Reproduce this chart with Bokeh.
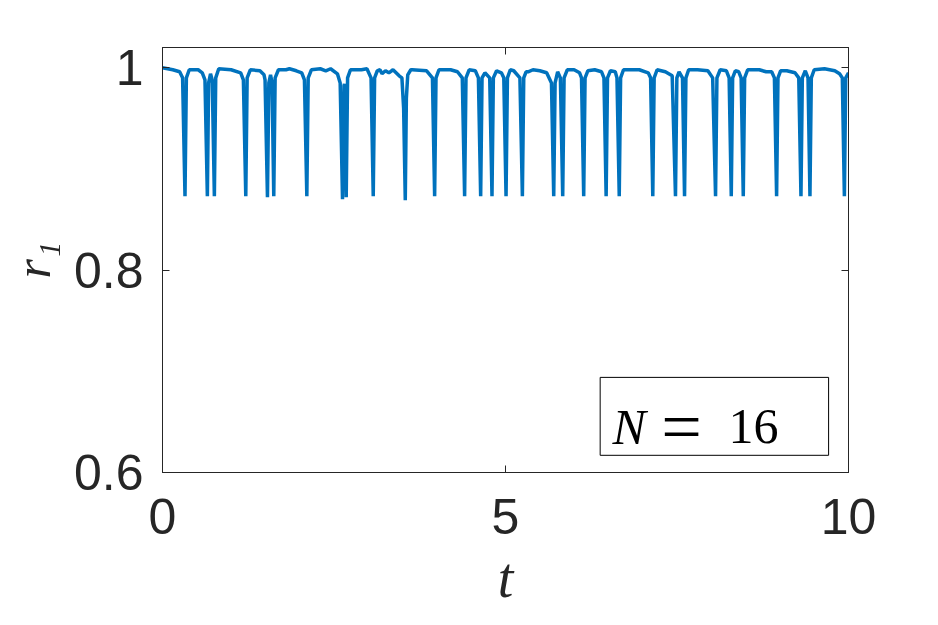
from bokeh.plotting import figure
from bokeh.models import Range1d, FixedTicker, LinearAxis, Label, BoxAnnotation
from bokeh.embed import file_html
from bokeh.resources import INLINE

# time samples and order parameter r_1
t_vals = [0.0, 0.15, 0.25,
          0.293, 0.328, 0.348, 0.39, 0.52, 0.58,
          0.619, 0.654, 0.672, 0.70, 0.725,
          0.756, 0.776, 0.82, 1.0, 1.14,
          1.179, 1.214, 1.234, 1.28, 1.42, 1.48,
          1.495, 1.530, 1.55, 1.575, 1.597,
          1.622, 1.642, 1.69, 1.80, 1.85, 1.95, 2.03,
          2.069, 2.104, 2.124, 2.17, 2.30, 2.38, 2.45, 2.55, 2.59,
          2.624, 2.645, 2.652, 2.662, 2.678, 2.698, 2.74, 2.90, 2.98, 3.04,
          3.072, 3.092, 3.13, 3.17, 3.20, 3.25, 3.30, 3.36, 3.45, 3.49, 3.515,
          3.539, 3.555, 3.575, 3.62, 3.64, 3.85, 3.935,
          3.967, 3.987, 4.03, 4.20, 4.30, 4.37,
          4.404, 4.424, 4.47, 4.56, 4.605,
          4.638, 4.658, 4.70, 4.77,
          4.803, 4.823, 4.87, 4.94, 4.975,
          5.008, 5.028, 5.07, 5.12, 5.21,
          5.246, 5.266, 5.30, 5.33, 5.40, 5.50, 5.60, 5.67,
          5.703, 5.723, 5.76, 5.80,
          5.834, 5.854, 5.90, 6.00, 6.08, 6.108,
          6.140, 6.16, 6.20, 6.30, 6.40, 6.435,
          6.467, 6.487, 6.53, 6.60, 6.625,
          6.658, 6.678, 6.72, 6.80, 6.95, 7.08, 7.115,
          7.147, 7.167, 7.21, 7.33, 7.43,
          7.478, 7.498, 7.53, 7.58,
          7.610, 7.63, 7.67, 7.80, 7.95, 8.02,
          8.062, 8.082, 8.13, 8.22, 8.26,
          8.291, 8.311, 8.35, 8.40, 8.435,
          8.466, 8.486, 8.53, 8.70, 8.80, 8.88, 8.92,
          8.952, 8.972, 9.01, 9.10, 9.22, 9.275,
          9.307, 9.327, 9.37, 9.41,
          9.438, 9.458, 9.50, 9.65, 9.80, 9.87, 9.91,
          9.940, 9.96, 10.0]

r_vals = [1.000, 0.998, 0.996,
          0.990, 0.873, 0.990, 0.998, 0.998, 0.995,
          0.988, 0.873, 0.985, 0.994, 0.988,
          0.873, 0.990, 0.999, 0.998, 0.995,
          0.988, 0.873, 0.990, 0.998, 0.997, 0.993,
          0.988, 0.872, 0.985, 0.993, 0.985,
          0.873, 0.990, 0.998, 0.998, 0.999, 0.997, 0.995,
          0.988, 0.873, 0.990, 0.998, 0.999, 0.997, 0.999, 0.994, 0.985,
          0.870, 0.982, 0.984, 0.975, 0.872, 0.990, 0.998, 0.998, 0.999, 0.990,
          0.873, 0.990, 0.997, 0.998, 0.994, 0.997, 0.995, 0.998, 0.992, 0.990, 0.960,
          0.869, 0.970, 0.993, 0.998, 0.998, 0.997, 0.990,
          0.873, 0.990, 0.998, 0.998, 0.996, 0.990,
          0.873, 0.990, 0.998, 0.997, 0.990,
          0.873, 0.990, 0.995, 0.990,
          0.873, 0.990, 0.997, 0.995, 0.990,
          0.873, 0.990, 0.998, 0.997, 0.990,
          0.873, 0.990, 0.996, 0.996, 0.998, 0.997, 0.995, 0.985,
          0.873, 0.985, 0.996, 0.990,
          0.873, 0.990, 0.998, 0.998, 0.995, 0.990,
          0.873, 0.990, 0.997, 0.998, 0.996, 0.990,
          0.873, 0.990, 0.997, 0.996, 0.990,
          0.873, 0.990, 0.998, 0.998, 0.998, 0.995, 0.990,
          0.873, 0.990, 0.998, 0.996, 0.992,
          0.873, 0.990, 0.996, 0.990,
          0.873, 0.990, 0.998, 0.998, 0.997, 0.990,
          0.873, 0.990, 0.998, 0.997, 0.990,
          0.873, 0.990, 0.997, 0.996, 0.990,
          0.873, 0.990, 0.998, 0.998, 0.996, 0.996, 0.990,
          0.873, 0.990, 0.997, 0.997, 0.995, 0.990,
          0.873, 0.990, 0.997, 0.990,
          0.873, 0.990, 0.998, 0.999, 0.997, 0.994, 0.990,
          0.873, 0.990, 0.995]

x_ticks = [0, 5, 10]
y_ticks = [0.6, 0.8, 1.0]
y_tick_labels = {0.6: "0.6", 0.8: "0.8", 1.0: "1"}
legend_var = "N"
legend_eq = "="
legend_num = "16"

AX = "#262626"
TICK_FONT = "Liberation Sans"
SERIF = "Liberation Serif"

p = figure(width=922, height=617, output_backend="svg", toolbar_location=None,
           x_range=Range1d(0, 10), y_range=Range1d(0.6, 1.02),
           min_border_left=162, min_border_right=74, min_border_top=47,
           min_border_bottom=145)
p.frame_width = 686
p.frame_height = 425
p.grid.visible = False
p.outline_line_color = AX
p.outline_line_width = 1
p.background_fill_color = "white"
p.border_fill_color = "white"

p.line(t_vals, r_vals, line_color="#0072BD", line_width=3.5)

for ax in [p.xaxis[0], p.yaxis[0]]:
    ax.axis_line_color = AX
    ax.major_tick_line_color = AX
    ax.major_tick_in = 7
    ax.major_tick_out = 0
    ax.minor_tick_line_color = None
    ax.major_label_text_font = TICK_FONT
    ax.major_label_text_font_size = "50px"
    ax.major_label_text_color = AX
    ax.axis_label_text_font = SERIF
    ax.axis_label_text_font_style = "italic"
    ax.axis_label_text_color = AX

p.xaxis.axis_label_text_font_size = "56px"
p.yaxis.axis_label_text_font_size = "50px"
p.xaxis.ticker = FixedTicker(ticks=x_ticks)
p.yaxis.ticker = FixedTicker(ticks=y_ticks)
p.yaxis.major_label_overrides = y_tick_labels
p.xaxis.axis_label = "t"
p.yaxis.axis_label = "r₁"
p.xaxis.major_label_standoff = 26
p.yaxis.major_label_standoff = 19
p.xaxis.axis_label_standoff = 10
p.yaxis.axis_label_standoff = 10

top = LinearAxis(ticker=FixedTicker(ticks=x_ticks),
                 major_label_overrides={t: "" for t in x_ticks},
                 axis_line_color=AX, major_tick_line_color=AX, major_tick_in=7,
                 major_tick_out=0, minor_tick_line_color=None)
right = LinearAxis(ticker=FixedTicker(ticks=y_ticks),
                   major_label_overrides={t: "" for t in y_ticks},
                   axis_line_color=AX, major_tick_line_color=AX, major_tick_in=7,
                   major_tick_out=0, minor_tick_line_color=None)
p.add_layout(top, "above")
p.add_layout(right, "right")

box = BoxAnnotation(left=6.38, right=9.71, bottom=0.617, top=0.694,
                    fill_color="white", fill_alpha=1.0,
                    line_color="black", line_alpha=1.0, line_width=1)
p.add_layout(box)
p.add_layout(Label(x=6.56, y=0.645, text=legend_var, text_font=SERIF,
                   text_font_style="italic", text_font_size="50px",
                   text_baseline="alphabetic", text_color="black"))
p.add_layout(Label(x=7.27, y=0.645, text=legend_eq, text_font=SERIF,
                   text_font_size="72px",
                   text_baseline="alphabetic", text_color="black"))
p.add_layout(Label(x=8.25, y=0.645, text=legend_num, text_font=SERIF,
                   text_font_size="50px",
                   text_baseline="alphabetic", text_color="black"))

open("out.html", "w").write(file_html(p, INLINE))
